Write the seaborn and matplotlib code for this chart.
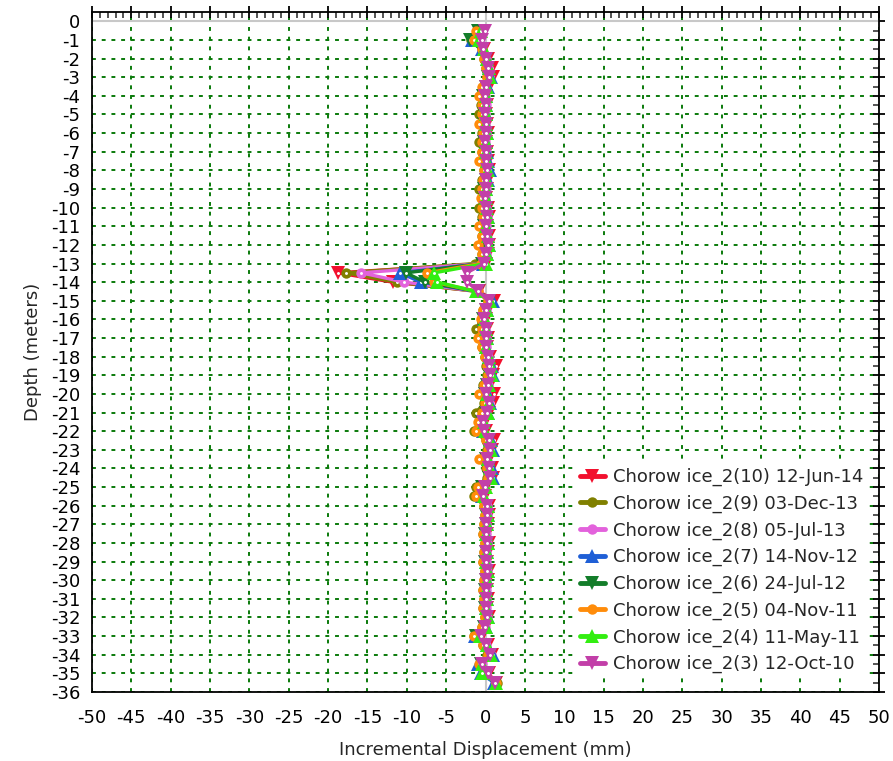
import pandas as pd
import matplotlib
matplotlib.use("Agg")
import matplotlib.pyplot as plt
from matplotlib.ticker import MultipleLocator
import seaborn as sns

# depth below top of casing (m), one reading every 0.5 m
depth = [0.5, 1.0, 1.5, 2.0, 2.5, 3.0, 3.5, 4.0, 4.5, 5.0,
         5.5, 6.0, 6.5, 7.0, 7.5, 8.0, 8.5, 9.0, 9.5, 10.0,
         10.5, 11.0, 11.5, 12.0, 12.5, 13.0, 13.5, 14.0, 14.5, 15.0,
         15.5, 16.0, 16.5, 17.0, 17.5, 18.0, 18.5, 19.0, 19.5, 20.0,
         20.5, 21.0, 21.5, 22.0, 22.5, 23.0, 23.5, 24.0, 24.5, 25.0,
         25.5, 26.0, 26.5, 27.0, 27.5, 28.0, 28.5, 29.0, 29.5, 30.0,
         30.5, 31.0, 31.5, 32.0, 32.5, 33.0, 33.5, 34.0, 34.5, 35.0,
         35.5]

# incremental displacement (mm) per survey
s10 = [-0.7, -1.0, -0.2, 0.3, 0.8, 0.9, 0.4, 0.1, 0.2, 0.1,
       0.2, 0.3, 0.1, 0.2, 0.3, 0.5, 0.3, 0.2, 0.1, 0.3,
       0.4, 0.2, 0.4, 0.5, 0.3, 0.0, -18.8, -11.8, -0.8, 1.1,
       0.3, 0.0, 0.2, 0.3, 0.2, 0.6, 1.3, 1.0, 0.6, 1.1,
       0.9, 0.4, -0.1, 0.0, 1.1, 0.8, 0.4, 0.8, 1.0, 0.1,
       -0.1, 0.4, 0.4, 0.3, 0.2, 0.4, 0.3, 0.2, 0.4, 0.3,
       0.2, 0.3, 0.2, 0.4, 0.1, -0.5, 0.3, 0.8, -0.3, 0.4,
       1.3]
s9 = [-1.1, -1.8, -0.5, -0.2, 0.1, 0.2, -0.3, -0.5, -0.6, -0.8,
      -0.5, -0.4, -0.8, -0.5, -0.4, -0.2, -0.4, -0.8, -0.5, -0.8,
      -0.4, -0.5, -0.4, -0.6, -0.5, -1.3, -17.7, -11.3, -1.1, 0.3,
      -0.3, -0.5, -1.2, -0.6, -0.4, -0.1, 0.1, 0.2, -0.3, -0.5,
      -0.2, -1.2, -0.8, -1.4, 0.0, 0.2, -0.5, 0.1, 0.2, -1.2,
      -1.4, -0.2, -0.1, -0.2, -0.3, -0.1, -0.2, -0.3, -0.1, -0.2,
      -0.3, -0.2, -0.3, -0.1, -0.4, -1.4, -0.3, 0.2, -0.6, -0.1,
      1.4]
s8 = [-0.8, -1.0, -0.4, 0.1, 0.3, 0.5, 0.1, -0.2, 0.0, -0.1,
      -0.1, 0.1, -0.1, 0.0, 0.1, 0.2, 0.1, 0.0, -0.1, 0.1,
      0.2, 0.0, 0.1, 0.2, 0.1, -0.3, -15.8, -10.3, -0.9, 0.5,
      0.1, -0.3, -0.1, 0.0, 0.0, 0.3, 0.6, 0.6, 0.3, 0.0,
      0.4, 0.1, -0.4, -0.4, 0.5, 0.6, 0.1, 0.5, 0.6, -0.3,
      -0.5, 0.2, 0.2, 0.1, 0.0, 0.2, 0.1, 0.0, 0.2, 0.1,
      0.0, 0.1, 0.0, 0.2, -0.1, -0.9, 0.0, 0.7, -0.5, 0.1,
      1.2]
s7 = [-0.9, -1.7, -0.5, 0.2, 0.5, 0.7, 0.3, 0.0, 0.1, 0.0,
      0.1, 0.2, 0.0, 0.2, 0.3, 0.6, 0.3, 0.1, 0.0, 0.2,
      0.3, 0.1, 0.3, 0.4, 0.2, -0.3, -10.9, -8.2, -1.0, 0.9,
      0.2, -0.2, 0.0, 0.2, 0.1, 0.5, 0.8, 0.9, 0.4, 0.3,
      0.6, 0.3, -0.3, -0.3, 0.7, 0.9, 0.3, 0.8, 0.9, -0.2,
      -0.5, 0.3, 0.3, 0.2, 0.1, 0.3, 0.2, 0.1, 0.3, 0.2,
      0.1, 0.2, 0.1, 0.3, 0.0, -1.3, 0.2, 1.0, -0.9, -0.6,
      1.1]
s6 = [-1.0, -2.0, -0.6, 0.0, 0.2, 0.3, 0.0, -0.3, -0.1, -0.2,
      -0.2, 0.0, -0.2, -0.1, 0.0, 0.1, 0.0, -0.2, -0.2, 0.0,
      0.1, -0.2, 0.1, 0.1, 0.0, -0.4, -10.1, -7.7, -1.0, 0.5,
      0.0, -0.3, -0.2, 0.0, -0.1, 0.2, 0.5, 0.5, 0.2, -0.1,
      0.3, 0.0, -0.5, -0.5, 0.4, 0.5, 0.0, 0.4, 0.5, -0.4,
      -0.6, 0.1, 0.1, 0.0, -0.1, 0.1, 0.0, -0.1, 0.1, 0.0,
      -0.1, 0.0, -0.1, 0.1, -0.2, -1.2, -0.1, 0.6, -0.6, 0.1,
      1.2]
s5 = [-1.2, -1.5, -0.5, -0.2, 0.1, 0.2, -0.5, -0.8, -0.4, -0.5,
      -0.8, -0.3, -0.5, -0.4, -0.8, -0.2, -0.3, -0.5, -0.6, -0.4,
      -0.3, -0.8, -0.4, -1.0, -0.4, -0.6, -7.4, -6.5, -1.0, 0.3,
      -0.3, -0.6, -0.5, -1.0, -0.4, -0.1, 0.2, 0.3, -0.2, -0.8,
      -0.1, -0.5, -0.9, -1.2, 0.1, 0.3, -0.8, 0.2, 0.3, -0.9,
      -1.2, -0.2, -0.1, -0.2, -0.3, -0.1, -0.2, -0.3, -0.1, -0.2,
      -0.3, -0.2, -0.3, -0.1, -0.4, -1.4, -0.3, 0.3, -0.8, -0.2,
      1.3]
s4 = [-0.6, -0.8, -0.2, 0.2, 0.4, 0.6, 0.2, 0.0, 0.1, 0.0,
      0.1, 0.2, 0.0, 0.1, 0.2, 0.3, 0.2, 0.1, 0.0, 0.2,
      0.3, 0.1, 0.3, 0.4, 0.2, 0.0, -6.5, -6.1, -1.2, 0.6,
      0.2, -0.1, 0.1, 0.2, 0.1, 0.4, 0.7, 0.8, 0.4, 0.2,
      0.5, 0.3, -0.2, -0.1, 0.6, 0.7, 0.3, 0.6, 0.7, 0.0,
      -0.2, 0.3, 0.3, 0.2, 0.1, 0.3, 0.2, 0.1, 0.3, 0.2,
      0.1, 0.2, 0.1, 0.3, 0.0, -0.7, 0.2, 0.7, -0.5, -0.4,
      1.3]
s3 = [-0.1, -0.4, -0.3, 0.1, 0.3, 0.4, 0.1, -0.1, 0.0, -0.1,
      0.0, 0.1, -0.1, 0.0, 0.1, 0.2, 0.1, 0.0, -0.1, 0.1,
      0.2, 0.0, 0.2, 0.3, 0.1, -0.2, -2.4, -2.3, -0.9, 0.4,
      0.1, -0.2, 0.0, 0.1, 0.0, 0.3, 0.5, 0.6, 0.3, 0.1,
      0.4, 0.2, -0.3, -0.2, 0.5, 0.6, 0.2, 0.5, 0.6, -0.1,
      -0.3, 0.2, 0.2, 0.1, 0.0, 0.2, 0.1, 0.0, 0.2, 0.1,
      0.0, 0.1, 0.0, 0.2, -0.1, -0.6, 0.0, 0.6, -0.4, 0.3,
      1.2]

names = ['Chorow ice_2(10) 12-Jun-14', 'Chorow ice_2(9) 03-Dec-13',
         'Chorow ice_2(8) 05-Jul-13', 'Chorow ice_2(7) 14-Nov-12',
         'Chorow ice_2(6) 24-Jul-12', 'Chorow ice_2(5) 04-Nov-11',
         'Chorow ice_2(4) 11-May-11', 'Chorow ice_2(3) 12-Oct-10']
colors = ['#f2102e', '#808000', '#e362dc', '#1f5fd6',
          '#137d2a', '#ff8c0a', '#33ee11', '#c23fa8']
marker_list = ['v', 'o', 'o', '^', 'v', 'o', '^', 'v']
series = [s10, s9, s8, s7, s6, s5, s4, s3]

neg_depth = [-d for d in depth]

sns.set_style("white")
plt.rcParams['font.family'] = ['DejaVu Sans']
plt.rcParams['font.size'] = 13
plt.rcParams['axes.unicode_minus'] = False

fig = plt.figure(figsize=(8.93, 7.61), dpi=100)
ax = fig.add_axes([92 / 893, 1 - 692 / 761, 787 / 893, 680 / 761])

ax.axhline(0, color='#c8c8c8', lw=1.5, zorder=1.5)
ax.axvline(0, color='#c8c8c8', lw=1.5, zorder=1.5)

# oldest survey ends up on top, as in the original
for name, vals, col, mk in zip(names, series, colors, marker_list):
    ms = 9.5 if mk in ('v', '^') else 7.5
    sns.lineplot(x=vals, y=neg_depth, sort=False, estimator=None, color=col,
                 marker=mk, markersize=ms, markeredgewidth=0, lw=2.4,
                 label=name, ax=ax, zorder=3)
    ax.plot(vals, neg_depth, linestyle='none', marker='o', ms=1.1,
            color='white', zorder=3)

ax.set_xlim(-50, 50)
ax.set_ylim(-36, 0.5)
ax.xaxis.set_major_locator(MultipleLocator(5))
ax.xaxis.set_minor_locator(MultipleLocator(1))
ax.yaxis.set_major_locator(MultipleLocator(1))
ax.yaxis.set_minor_locator(MultipleLocator(0.5))
ax.set_yticks(range(-36, 1))
ax.tick_params(which='major', direction='inout', length=9, width=1.3,
               top=True, right=True, labelsize=13, colors='black')
ax.tick_params(which='minor', direction='in', length=4, width=1.1,
               top=True, right=True)
ax.tick_params(axis='x', which='major', pad=8)
ax.tick_params(axis='y', which='major', pad=4)
for sp in ax.spines.values():
    sp.set_color('black')
    sp.set_linewidth(1.3)

ax.grid(which='major', color='#0a7a0a', linestyle=(0, (2, 3)), lw=1.4)
ax.set_axisbelow(True)

ax.set_xlabel('Incremental Displacement (mm)', fontsize=13, labelpad=10)
ax.set_ylabel('Depth (meters)', fontsize=13, labelpad=6)

handles, labels = ax.get_legend_handles_labels()
leg = ax.legend(handles, labels, loc='lower right', bbox_to_anchor=(0.985, 0.022),
                fontsize=13, frameon=True, framealpha=1, facecolor='white',
                edgecolor='none', fancybox=False, handlelength=1.4,
                handletextpad=0.45, labelspacing=0.47, borderpad=0.2,
                borderaxespad=0)
for h in leg.legend_handles:
    h.set_linewidth(3.5)

fig.savefig('out.png', dpi=100)
